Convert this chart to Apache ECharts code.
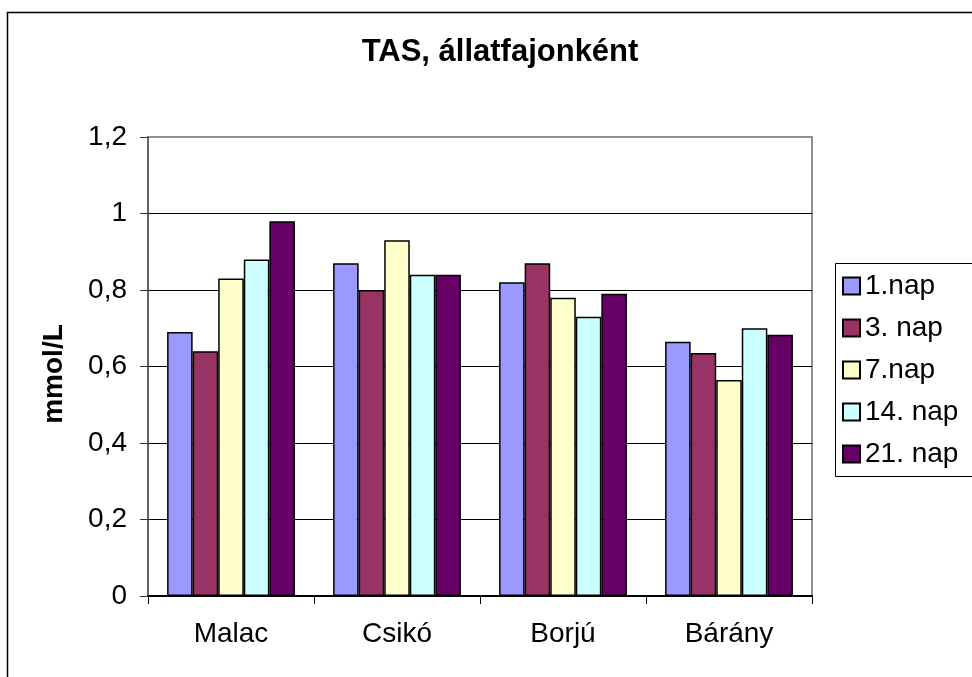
<!DOCTYPE html>
<html>
<head>
<meta charset="utf-8">
<title>TAS, állatfajonként</title>
<script src="https://cdn.jsdelivr.net/npm/echarts@6/dist/echarts.min.js"></script>
<style>
  html, body { margin: 0; padding: 0; background: #ffffff; }
  #chart { width: 972px; height: 677px; }
</style>
</head>
<body>
<div id="chart"></div>
<script>
// categories (animal species)
var fajok = ['Malac', 'Csikó', 'Borjú', 'Bárány'];
// legend names
var napok = ['1.nap', '3. nap', '7.nap', '14. nap', '21. nap'];
// values per day, mmol/L
var nap1 = [0.69, 0.87, 0.82, 0.665];
var nap3 = [0.64, 0.80, 0.87, 0.635];
var nap7 = [0.83, 0.93, 0.78, 0.565];
var nap14 = [0.88, 0.84, 0.73, 0.70];
var nap21 = [0.98, 0.84, 0.79, 0.683];
// y axis ticks
var yMin = 0, yMax = 1.2, yStep = 0.2;

var szinek = ['#9999FF', '#993366', '#FFFFCC', '#CCFFFF', '#660066'];
var adatok = [nap1, nap3, nap7, nap14, nap21];
var betu = '"Liberation Sans", Arial, sans-serif';

var myChart = echarts.init(document.getElementById('chart'));

var series = [];
for (var i = 0; i < napok.length; i++) {
  series.push({
    name: napok[i],
    type: 'bar',
    data: adatok[i],
    barGap: '0%',
    barCategoryGap: '23%',
    itemStyle: {
      color: szinek[i],
      borderColor: '#000000',
      borderWidth: 1.5
    }
  });
}

myChart.setOption({
  animation: false,
  backgroundColor: '#ffffff',
  title: {
    text: 'TAS, állatfajonként',
    left: 495,
    textAlign: 'center',
    top: 32,
    textStyle: { fontFamily: betu, fontSize: 31, fontWeight: 'bold', color: '#000' }
  },
  legend: {
    orient: 'vertical',
    left: 833,
    top: 261,
    data: napok,
    icon: 'rect',
    itemWidth: 17,
    itemHeight: 17,
    itemGap: 14,
    padding: [11, 10, 9, 9],
    textStyle: { fontFamily: betu, fontSize: 28, color: '#000' }
  },
  grid: {
    left: 148,
    right: 160,
    top: 137,
    bottom: 81,
    show: true,
    borderColor: '#909090',
    borderWidth: 2,
    backgroundColor: '#ffffff'
  },
  xAxis: {
    type: 'category',
    data: fajok,
    axisLine: { lineStyle: { color: '#000', width: 2 } },
    axisTick: { show: true, length: 8, lineStyle: { color: '#000' } },
    axisLabel: { margin: 24, fontFamily: betu, fontSize: 28, color: '#000' }
  },
  yAxis: {
    type: 'value',
    min: yMin,
    max: yMax,
    interval: yStep,
    axisLine: { show: true, lineStyle: { color: '#555', width: 1.5 } },
    axisTick: { show: true, length: 8, lineStyle: { color: '#333' } },
    axisLabel: {
      margin: 21,
      fontFamily: betu,
      fontSize: 28,
      color: '#000',
      formatter: function (v) { return String(Math.round(v * 10) / 10).replace('.', ','); }
    },
    splitLine: {
      show: true,
      lineStyle: { color: ['#000', '#000', '#000', '#000', '#000', '#000', '#909090'], width: 1 }
    }
  },
  graphic: [
    {
      type: 'rect',
      left: 5,
      top: 10,
      shape: { width: 1100, height: 800 },
      style: { fill: 'none', stroke: '#000', lineWidth: 1.5 },
      silent: true,
      z: -10
    },
    {
      // legend frame, runs off the right edge like the original
      type: 'rect',
      left: 833,
      top: 261,
      shape: { width: 200, height: 213 },
      style: { fill: 'none', stroke: '#000', lineWidth: 1 },
      silent: true
    },
    {
      type: 'text',
      x: 54,
      y: 374,
      rotation: Math.PI / 2,
      style: {
        text: 'mmol/L',
        fontFamily: betu,
        fontSize: 28,
        fontWeight: 'bold',
        fill: '#000',
        align: 'center',
        verticalAlign: 'middle'
      }
    }
  ],
  series: series
});
</script>
</body>
</html>
